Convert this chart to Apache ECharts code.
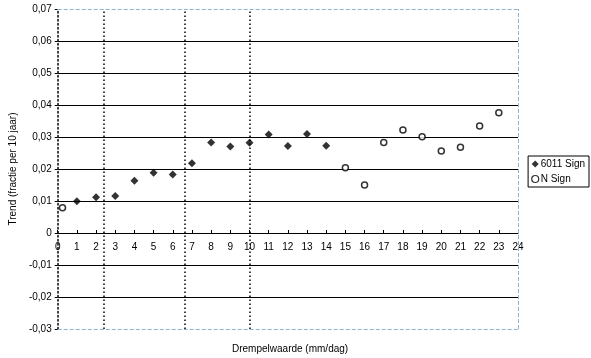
<!DOCTYPE html>
<html>
<head>
<meta charset="utf-8">
<script src="https://cdn.jsdelivr.net/npm/echarts@6/dist/echarts.min.js"></script>
<style>
  html, body { margin: 0; padding: 0; background: #fff; }
  #chart { width: 591px; height: 358px; }
</style>
</head>
<body>
<div id="chart"></div>
<script>
// values
const signX = [1, 2, 3, 4, 5, 6, 7, 8, 9, 10, 11, 12, 13, 14];
const signY = [0.0099, 0.0112, 0.0116, 0.0163, 0.0188, 0.0183, 0.0218, 0.0283, 0.0270, 0.0282, 0.0308, 0.0272, 0.0309, 0.0273];
const nSignX = [0.25, 15, 16, 17, 18, 19, 20, 21, 22, 23];
const nSignY = [0.0079, 0.0204, 0.0150, 0.0283, 0.0322, 0.0301, 0.0256, 0.0268, 0.0334, 0.0376];
const dottedX = [2.4, 6.6, 10];   // hand-drawn vertical separators
const xRange = [0, 24];
const yRange = [-0.03, 0.07];

const FONT = '"Liberation Sans", Arial, sans-serif';
const fmtY = v => {
    const r = Math.round(v * 100) / 100;
    return r === 0 ? '0' : r.toFixed(2).replace('.', ',');
};
const border = { color: '#8fb3cf', type: 'dashed', width: 1 };
const dotted = { color: '#000', type: [1.5, 2.5], width: 1.5 };

// plot box, in px; the x axis sits on y = 0
const G = { left: 56, right: 73, top: 9, bottom: 29 };
const plotH = 358 - G.top - G.bottom;
const zeroShift = plotH * (0 - yRange[0]) / (yRange[1] - yRange[0]);

const chart = echarts.init(document.getElementById('chart'), null, { renderer: 'canvas' });
chart.setOption({
    animation: false,
    backgroundColor: '#fff',
    textStyle: { fontFamily: FONT },
    grid: G,
    legend: {
        orient: 'vertical', right: 2, top: 156,
        borderColor: '#000', borderWidth: 1, padding: [3, 4, 3, 3],
        itemWidth: 7, itemHeight: 7, itemGap: 5,
        textStyle: { fontSize: 10, color: '#000', fontFamily: FONT, padding: [0, 0, 0, -3] },
        data: [
            { name: '6011 Sign' },
            { name: 'N Sign', itemStyle: { borderWidth: 1.2 } },
        ],
    },
    xAxis: {
        type: 'value', min: xRange[0], max: xRange[1], interval: 1,
        position: 'bottom', offset: -zeroShift,
        axisLine: { onZero: false, lineStyle: { color: '#000', width: 1 } },
        axisTick: { inside: true, length: 3, lineStyle: { color: '#000' } },
        axisLabel: { color: '#000', fontSize: 10, margin: 9, showMaxLabel: true },
        splitLine: { show: false },
    },
    yAxis: {
        type: 'value', min: yRange[0], max: yRange[1], interval: 0.01,
        axisLine: { show: true, onZero: false, lineStyle: dotted },
        axisTick: { show: true, length: 3, lineStyle: { color: '#000' } },
        axisLabel: { color: '#000', fontSize: 10, margin: 6, formatter: fmtY },
        splitLine: { show: true, showMinLine: false, showMaxLine: false, lineStyle: { color: '#000', width: 1 } },
        name: 'Trend (fractie per 10 jaar)', nameLocation: 'middle', nameGap: 30, nameRotate: 90,
        nameTextStyle: { color: '#000', fontSize: 10 },
    },
    graphic: [{
        type: 'text', left: 232, top: 344,
        style: { text: 'Drempelwaarde (mm/dag)', fill: '#000', font: '10px ' + FONT },
    }],
    series: [
        {
            name: '6011 Sign', type: 'scatter', symbol: 'diamond', symbolSize: 8,
            itemStyle: { color: '#000' },
            data: signX.map((x, i) => [x, signY[i]]),
            markLine: {
                silent: true, symbol: 'none', label: { show: false },
                data: dottedX.map(x => ({ xAxis: x, lineStyle: dotted }))
                    .concat([
                        { yAxis: yRange[1], lineStyle: border },
                        { yAxis: yRange[0], lineStyle: border },
                        { xAxis: xRange[1], lineStyle: border },
                    ]),
            },
        },
        {
            name: 'N Sign', type: 'scatter', symbol: 'circle', symbolSize: 6,
            itemStyle: { color: '#fff', borderColor: '#000', borderWidth: 1.5 },
            data: nSignX.map((x, i) => [x, nSignY[i]]),
        },
    ],
});
</script>
</body>
</html>
